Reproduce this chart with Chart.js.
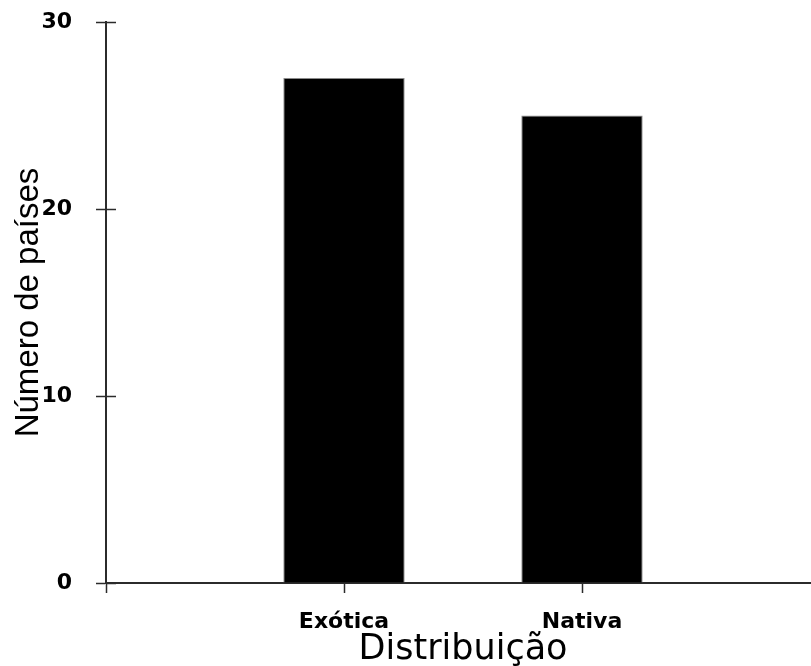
<!DOCTYPE html>
<html>
<head>
<meta charset="utf-8">
<script src="https://cdn.jsdelivr.net/npm/chart.js@4"></script>
<style>
    html, body { margin: 0; padding: 0; background: #fff; overflow: hidden; }
    #wrap { width: 820px; height: 666px; }
</style>
</head>
<body>
<div id="wrap"><canvas id="barChart" width="820" height="666"></canvas></div>
<script>
const categories = ['Exótica', 'Nativa'];
const numPaises = [27, 25];
const yTicks = [0, 10, 20, 30];
const xTitle = 'Distribuição';
const yTitle = 'Número de países';

const axisColor = '#2b2b2b';

// small crosses: y ticks also go 10px into the plot
const innerTicks = {
    id: 'innerTicks',
    afterDraw(chart) {
        const ctx = chart.ctx;
        const y = chart.scales.y;
        const left = chart.chartArea.left;
        ctx.save();
        ctx.strokeStyle = axisColor;
        ctx.lineWidth = 1.5;
        yTicks.forEach(v => {
            const py = Math.round(y.getPixelForValue(v)) + 0.5;
            ctx.beginPath();
            ctx.moveTo(left, py);
            ctx.lineTo(left + 10, py);
            ctx.stroke();
        });
        ctx.restore();
    }
};

function createChart() {
    const ctx = document.getElementById('barChart').getContext('2d');
    new Chart(ctx, {
        type: 'bar',
        data: {
            datasets: [{
                data: categories.map((c, i) => ({ x: i + 1, y: numPaises[i] })),
                backgroundColor: '#000',
                borderColor: '#8a8a8a',
                borderWidth: 1,
                barPercentage: 0.51,
                categoryPercentage: 1
            }]
        },
        options: {
            responsive: false,
            animation: false,
            layout: { padding: { top: 22, right: 0, left: 0, bottom: 0 } },
            plugins: { legend: { display: false }, tooltip: { enabled: false } },
            scales: {
                x: {
                    type: 'linear',
                    offset: false,
                    min: 0,
                    max: categories.length + 1,
                    afterBuildTicks: scale => {
                        scale.ticks = [0, ...categories.map((c, i) => i + 1), categories.length + 1]
                            .map(v => ({ value: v }));
                    },
                    afterFit: scale => {
                        scale.height = 83;
                        scale.paddingLeft = 0;
                        scale.paddingRight = 0;
                    },
                    border: { display: true, color: axisColor, width: 2 },
                    grid: { offset: false, drawOnChartArea: false, tickLength: 10, tickColor: axisColor, tickWidth: 1.5 },
                    ticks: {
                        color: '#000',
                        padding: 16,
                        maxRotation: 0,
                        autoSkip: false,
                        font: { family: 'DejaVu Sans', size: 22, weight: 'bold' },
                        callback: v => categories[v - 1] || ''
                    },
                    title: {
                        display: true,
                        text: xTitle,
                        color: '#000',
                        padding: { top: 0, bottom: -1 },
                        font: { family: 'DejaVu Sans', size: 35, lineHeight: 1 }
                    }
                },
                y: {
                    min: 0,
                    max: 30,
                    afterBuildTicks: scale => {
                        scale.ticks = yTicks.map(v => ({ value: v }));
                    },
                    afterFit: scale => {
                        scale.width = 106;
                        scale.paddingTop = 0;
                        scale.paddingBottom = 0;
                    },
                    border: { display: true, color: axisColor, width: 2 },
                    grid: { drawOnChartArea: false, tickLength: 10, tickColor: axisColor, tickWidth: 1.5 },
                    ticks: {
                        color: '#000',
                        padding: 24,
                        font: { family: 'DejaVu Sans', size: 22, weight: 'bold' }
                    },
                    title: {
                        display: true,
                        text: yTitle,
                        color: '#000',
                        padding: { top: 12, bottom: 0 },
                        font: { family: 'Liberation Sans', size: 33, lineHeight: 1 }
                    }
                }
            }
        },
        plugins: [innerTicks]
    });
}

document.addEventListener('DOMContentLoaded', createChart);
</script>
</body>
</html>
